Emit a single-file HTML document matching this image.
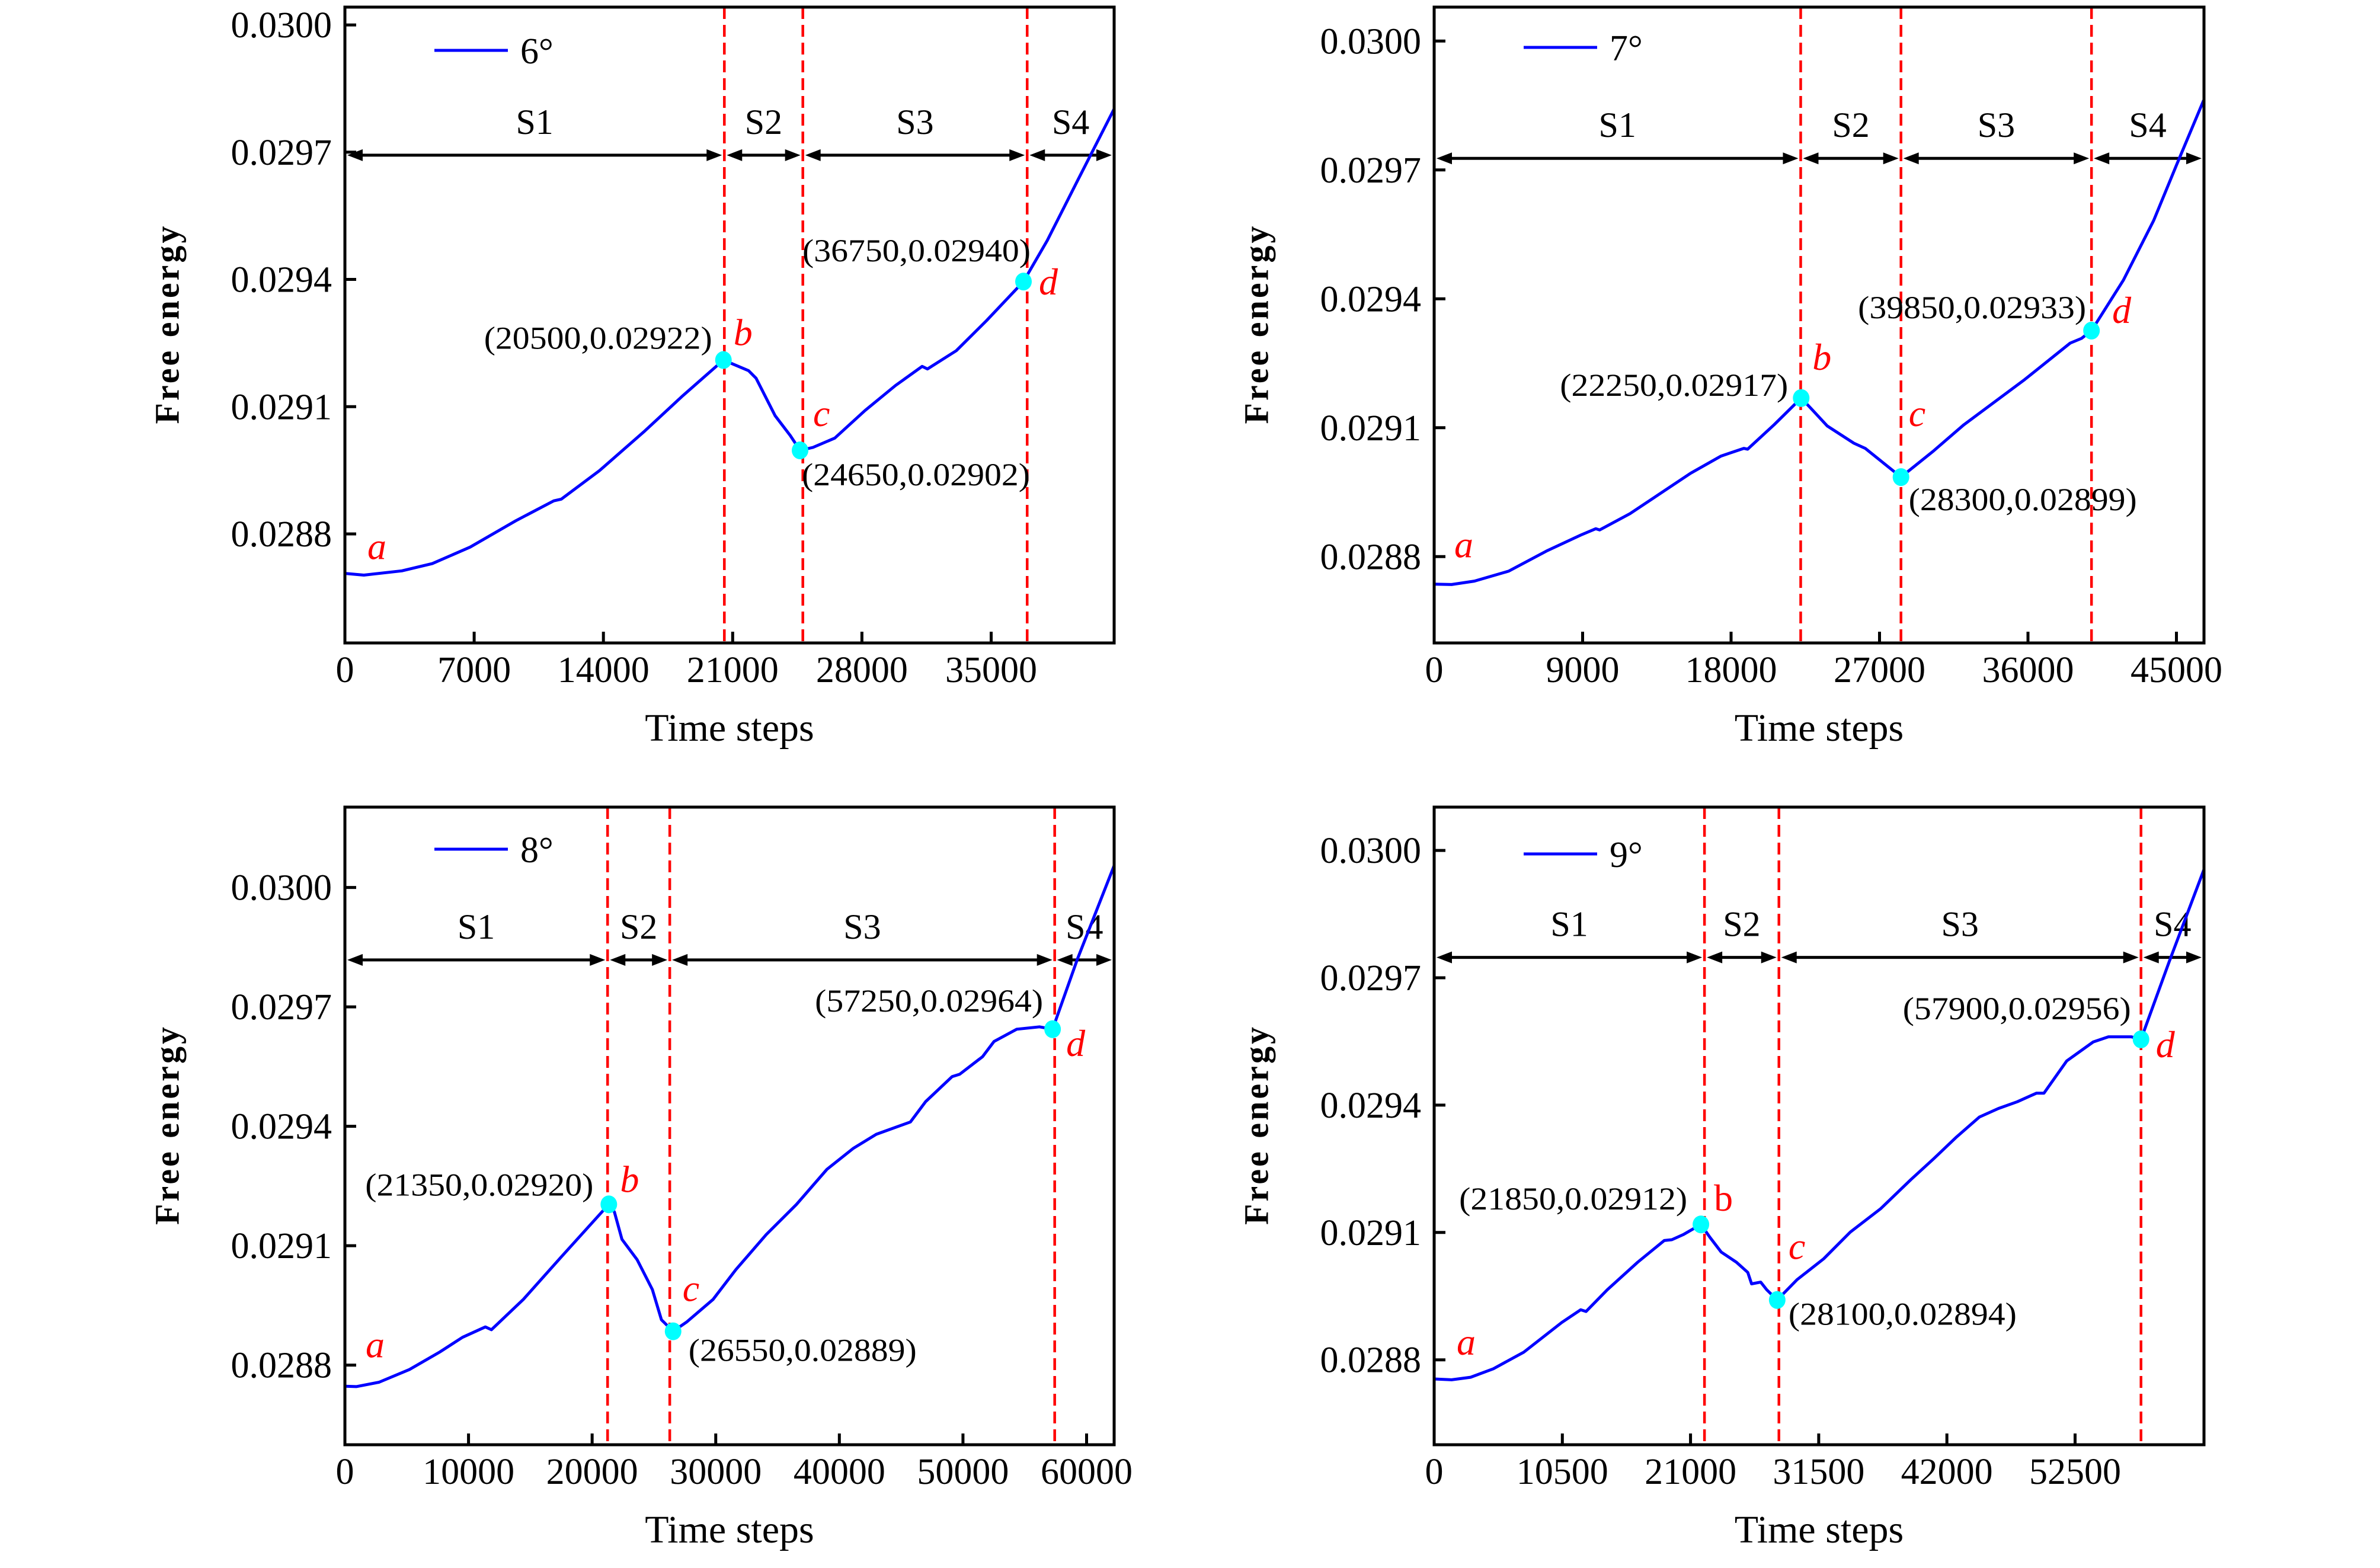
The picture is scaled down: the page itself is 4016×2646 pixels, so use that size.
<!DOCTYPE html>
<html>
<head>
<meta charset="utf-8">
<style>
html,body{margin:0;padding:0;background:#fff;}
svg{display:block;}
text{font-family:"Liberation Serif",serif;}
</style>
</head>
<body>
<svg id="fig" xmlns="http://www.w3.org/2000/svg" width="4016" height="2646" viewBox="0 0 4016 2646">
<rect x="0" y="0" width="4016" height="2646" fill="#fff"/>
</svg>
<script>
// ---------- Panel 6° ----------
const p6Steps  = [0,1028,3085,4730,6786,9254,11311,11722,13779,16246,18302,20500,21857,22268,23296,24119,24650,25350,26530,28170,29820,31260,31550,33110,34750,36750,38040,39690,41660];
const p6Energy = [0.028707,0.028703,0.028713,0.028730,0.028769,0.028831,0.028878,0.028882,0.028949,0.029043,0.029126,0.029210,0.029185,0.029167,0.029079,0.029032,0.028997,0.029004,0.029026,0.029091,0.029150,0.029195,0.029189,0.029232,0.029303,0.029395,0.029492,0.029634,0.029802];
const p6KeyX = [20500,24650,36750];
const p6KeyY = [0.029210,0.028997,0.029395];
const p6KeyLabels = ["(20500,0.02922)","(24650,0.02902)","(36750,0.02940)"];
const p6Bounds = [20550,24800,36950];
const p6XTicks = [0,7000,14000,21000,28000,35000];

// ---------- Panel 7° ----------
const p7Steps  = [0,1058,2439,4509,6809,8880,9800,10030,11870,13711,15551,17392,18772,19002,20612,22250,22913,23833,25444,26134,28300,30275,32115,35796,38556,39246,39850,41777,43617,45000,46650];
const p7Energy = [0.028736,0.028735,0.028743,0.028766,0.028813,0.028850,0.028865,0.028862,0.028900,0.028947,0.028994,0.029034,0.029052,0.029050,0.029107,0.029169,0.029142,0.029104,0.029064,0.029052,0.028985,0.029046,0.029107,0.029212,0.029297,0.029308,0.029326,0.029443,0.029582,0.029711,0.029862];
const p7KeyX = [22250,28300,39850];
const p7KeyY = [0.029169,0.028985,0.029326];
const p7KeyLabels = ["(22250,0.02917)","(28300,0.02899)","(39850,0.02933)"];
const p7Bounds = [22220,28300,39850];
const p7XTicks = [0,9000,18000,27000,36000,45000];

// ---------- Panel 8° ----------
const p8Steps  = [0,921,2763,5220,7676,9519,11361,11852,14431,17502,21350,21801,22415,23643,24871,25608,26550,27635,29784,31626,34083,36539,38995,41145,42987,45750,46979,49128,49742,51585,52506,54348,56190,57250,59259,62230];
const p8Energy = [0.028747,0.028746,0.028757,0.028789,0.028833,0.028870,0.028896,0.028889,0.028965,0.029072,0.029204,0.029185,0.029116,0.029065,0.028990,0.028914,0.028885,0.028908,0.028965,0.029040,0.029128,0.029204,0.029292,0.029345,0.029380,0.029411,0.029462,0.029525,0.029531,0.029575,0.029613,0.029644,0.029650,0.029644,0.029820,0.030055];
const p8KeyX = [21350,26550,57250];
const p8KeyY = [0.029204,0.028885,0.029644];
const p8KeyLabels = ["(21350,0.02920)","(26550,0.02889)","(57250,0.02964)"];
const p8Bounds = [21250,26280,57420];
const p8XTicks = [0,10000,20000,30000,40000,50000,60000];

// ---------- Panel 9° ----------
const p9Steps  = [0,1431,2986,4852,7340,10450,12005,12440,14182,16670,18847,19469,20402,21850,22579,23512,24756,25689,26000,26746,27244,28100,29732,31909,34086,36574,39062,40928,42794,44660,46215,47770,49325,49947,51813,53990,55234,57100,57900,60210,63070];
const p9Energy = [0.028755,0.028753,0.028759,0.028779,0.028818,0.028888,0.028918,0.028914,0.028965,0.029030,0.029081,0.029083,0.029095,0.029119,0.029089,0.029054,0.029030,0.029006,0.028979,0.028983,0.028965,0.028941,0.028989,0.029038,0.029101,0.029156,0.029225,0.029274,0.029325,0.029372,0.029392,0.029408,0.029428,0.029428,0.029504,0.029549,0.029561,0.029561,0.029555,0.029738,0.029956];
const p9KeyX = [21850,28100,57900];
const p9KeyY = [0.029119,0.028941,0.029555];
const p9KeyLabels = ["(21850,0.02912)","(28100,0.02894)","(57900,0.02956)"];
const p9Bounds = [22143,28240,57900];
const p9XTicks = [0,10500,21000,31500,42000,52500];

const yTicks = [0.0288,0.0291,0.0294,0.0297,0.0300];
const yTickLabels = ["0.0288","0.0291","0.0294","0.0297","0.0300"];
const stageNames = ["S1","S2","S3","S4"];

const NS = "http://www.w3.org/2000/svg";
const svg = document.getElementById('fig');
function mk(tag, attrs, parent){
  const e = document.createElementNS(NS, tag);
  for (const k in attrs) e.setAttribute(k, attrs[k]);
  (parent||svg).appendChild(e);
  return e;
}

function drawPanel(cfg){
  const g = mk('g', {});
  
  
  const L=cfg.L,R=cfg.R,T=cfg.T,B=cfg.B;
  const X = v => L + v/cfg.xmax*(R-L);
  const Y = v => T + (cfg.ymax - v)/(cfg.ymax-cfg.ymin)*(B-T);

  yTicks.forEach((v,i)=>{
    const t = mk('line',{x1:L,x2:L+19,y1:Y(v),y2:Y(v),stroke:'#000','stroke-width':5},g);
    
    
    const tl = mk('text',{x:L-22,y:Y(v)+21,'font-size':62,'text-anchor':'end',fill:'#000'},g);
    tl.textContent = yTickLabels[i];
    
    
  });
  cfg.xticks.forEach(v=>{
    const t = mk('line',{x1:X(v),x2:X(v),y1:B,y2:B-19,stroke:'#000','stroke-width':5},g);
    
    
    const tl = mk('text',{x:X(v),y:B+66,'font-size':62,'text-anchor':'middle',fill:'#000'},g);
    tl.textContent = String(v);
    
    
  });
  const xt = mk('text',{x:(L+R)/2,y:B+165,'font-size':66,'text-anchor':'middle',fill:'#000'},g);
  xt.textContent = 'Time steps';
  
  
  const yx = L-294, yy = (T+B)/2;
  const yt = mk('text',{x:yx,y:yy,'font-size':58,'font-weight':'bold','text-anchor':'middle',fill:'#000',
    transform:`rotate(-90 ${yx} ${yy})`,textLength:334,lengthAdjust:'spacing','dominant-baseline':'middle'},g);
  yt.textContent = 'Free energy';
  
  

  cfg.bounds.forEach(v=>{
    const l = mk('line',{x1:X(v),x2:X(v),y1:T,y2:B,stroke:'#ff0000','stroke-width':4.5,'stroke-dasharray':'20 10'},g);
    
    
  });

  const edges = [0].concat(cfg.bounds).concat([cfg.xmax]);
  const ay = Y(cfg.arrowY);
  for (let i=0;i<4;i++){
    const x1 = X(edges[i])+4, x2 = X(edges[i+1])-4;
    const ag = mk('g',{},g);
    
    
    mk('line',{x1:x1+20,x2:x2-20,y1:ay,y2:ay,stroke:'#000','stroke-width':5},ag);
    mk('polygon',{points:`${x1},${ay} ${x1+26},${ay-10} ${x1+26},${ay+10}`,fill:'#000'},ag);
    mk('polygon',{points:`${x2},${ay} ${x2-26},${ay-10} ${x2-26},${ay+10}`,fill:'#000'},ag);
    const st = mk('text',{x:(x1+x2)/2,y:ay-36,'font-size':60,'text-anchor':'middle',fill:'#000'},g);
    st.textContent = stageNames[i];
    
    
  }

  let d = '';
  cfg.steps.forEach((v,i)=>{ d += (i?'L':'M') + X(v).toFixed(1) + ',' + Y(cfg.energy[i]).toFixed(1); });
  const p = mk('path',{d:d,fill:'none',stroke:'#0000ff','stroke-width':5,'stroke-linejoin':'round'},g);
  
  

  const la = mk('text',{x:L+cfg.aOff[0],y:Y(cfg.energy[0])+cfg.aOff[1],'font-size':64,'font-style':'italic',fill:'#ff0000'},g);
  la.textContent = 'a';
  
  

  const letters = ['b','c','d'];
  cfg.keyX.forEach((v,i)=>{
    const cx = X(v), cy = Y(cfg.keyY[i]);
    const c = mk('ellipse',{cx:cx,cy:cy,rx:14,ry:15,fill:'#00ffff'},g);
    
    
    const o = cfg.letterOff[i];
    const lt = mk('text',{x:cx+o[0],y:cy+o[1],'font-size':64,'font-style':(cfg.key==='9deg'&&i===0)?'normal':'italic',fill:'#ff0000'},g);
    lt.textContent = letters[i];
    
    
    const a = cfg.annOff[i];
    const at = mk('text',{x:cx+a[0],y:cy+a[1],'font-size':54,'text-anchor':a[2],fill:'#000',textLength:385,lengthAdjust:'spacingAndGlyphs'},g);
    at.textContent = cfg.keyLabels[i];
    
    
  });

  const lg = mk('g',{},g);
  
  
  mk('line',{x1:L+151,x2:L+275,y1:T+cfg.legY,y2:T+cfg.legY,stroke:'#0000ff','stroke-width':5},lg);
  const lt2 = mk('text',{x:L+296,y:T+cfg.legY+22,'font-size':62,fill:'#000'},lg);
  lt2.textContent = cfg.legend;

  const f = mk('rect',{x:L,y:T,width:R-L,height:B-T,fill:'none',stroke:'#000','stroke-width':5},g);
  
  
}

drawPanel({key:'6deg',legend:'6°',L:582,R:1880,T:12,B:1085,xmax:41660,ymin:0.028543,ymax:0.030042,
  xticks:p6XTicks,steps:p6Steps,energy:p6Energy,keyX:p6KeyX,keyY:p6KeyY,keyLabels:p6KeyLabels,bounds:p6Bounds,
  arrowY:0.029693,legY:73,aOff:[38,-24],
  letterOff:[[17,-25],[22,-41],[26,22]],
  annOff:[[-19,-19,'end'],[3,59,'start'],[12,-34,'end']]});

drawPanel({key:'7deg',legend:'7°',L:2420,R:3719,T:12,B:1085,xmax:46670,ymin:0.028599,ymax:0.030079,
  xticks:p7XTicks,steps:p7Steps,energy:p7Energy,keyX:p7KeyX,keyY:p7KeyY,keyLabels:p7KeyLabels,bounds:p7Bounds,
  arrowY:0.029727,legY:68,aOff:[34,-45],
  letterOff:[[19,-48],[13,-86],[35,-13]],
  annOff:[[-22,-4,'end'],[13,56,'start'],[-9,-21,'end']]});

drawPanel({key:'8deg',legend:'8°',L:582,R:1880,T:1362,B:2438,xmax:62230,ymin:0.0286,ymax:0.030202,
  xticks:p8XTicks,steps:p8Steps,energy:p8Energy,keyX:p8KeyX,keyY:p8KeyY,keyLabels:p8KeyLabels,bounds:p8Bounds,
  arrowY:0.029818,legY:71,aOff:[35,-49],
  letterOff:[[19,-21],[16,-51],[23,45]],
  annOff:[[-26,-15,'end'],[26,50,'start'],[-16,-30,'end']]});

drawPanel({key:'9deg',legend:'9°',L:2420,R:3719,T:1362,B:2438,xmax:63060,ymin:0.0286,ymax:0.030102,
  xticks:p9XTicks,steps:p9Steps,energy:p9Energy,keyX:p9KeyX,keyY:p9KeyY,keyLabels:p9KeyLabels,bounds:p9Bounds,
  arrowY:0.029748,legY:79,aOff:[38,-41],
  letterOff:[[22,-23],[19,-69],[25,30]],
  annOff:[[-23,-25,'end'],[19,42,'start'],[-17,-34,'end']]});
</script>
</body>
</html>
